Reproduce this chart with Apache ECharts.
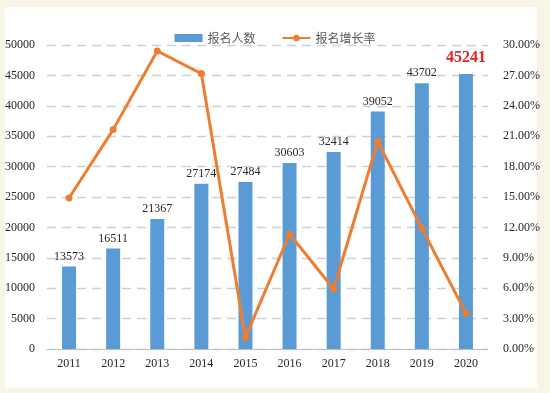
<!DOCTYPE html>
<html><head><meta charset="utf-8">
<script src="https://cdn.jsdelivr.net/npm/echarts@6/dist/echarts.min.js"></script>
<style>html,body{margin:0;padding:0;background:#f8f4e6;}#c{width:550px;height:393px;}</style>
</head><body><div id="c"></div>
<script>
const years = ['2011','2012','2013','2014','2015','2016','2017','2018','2019','2020'];
const applicants = [13573,16511,21367,27174,27484,30603,32414,39052,43702,45241];
const growthRate = [14.9,21.65,29.41,27.18,1.14,11.35,5.92,20.48,11.91,3.52];
const leftTicks = {min:0,max:50000,interval:5000};
const rightTicks = {min:0,max:30,interval:3};

const serif = 'Liberation Serif';
const chart = echarts.init(document.getElementById('c'));
const barData = applicants.map((v,i)=> i===applicants.length-1 ? {value:v,label:{color:'#e3231f',fontSize:16,fontWeight:'bold',distance:8}} : v);
chart.setOption({
  animation:false,
  graphic:[{type:'rect',z:-10,shape:{x:5,y:7,width:532,height:381},style:{fill:'#ffffff'}}],
  legend:{top:27,left:'center',itemGap:26,itemWidth:28,itemHeight:8,
    textStyle:{fontFamily:'Noto Sans CJK SC',fontSize:12,color:'#595959'},
    data:[{name:'报名人数',icon:'rect'},{name:'报名增长率'}]},
  grid:{left:47,right:62,top:45,bottom:44},
  xAxis:{type:'category',data:years,
    axisLine:{lineStyle:{color:'#bfbfbf'}},axisTick:{show:false},
    axisLabel:{fontFamily:serif,fontSize:12,color:'#262626',margin:9}},
  yAxis:[
    {type:'value',min:leftTicks.min,max:leftTicks.max,interval:leftTicks.interval,
     axisLine:{show:false},axisTick:{show:false},
     axisLabel:{fontFamily:serif,fontSize:12,color:'#262626',margin:12,formatter:v=>String(v)},
     splitLine:{lineStyle:{color:'#d0d0d0',type:[9,6],width:1.3}}},
    {type:'value',min:rightTicks.min,max:rightTicks.max,interval:rightTicks.interval,
     axisLine:{show:false},axisTick:{show:false},splitLine:{show:false},
     axisLabel:{fontFamily:serif,fontSize:12,color:'#262626',margin:15,formatter:v=>v.toFixed(2)+'%'}}
  ],
  series:[
    {name:'报名人数',type:'bar',data:barData,barWidth:14,itemStyle:{color:'#5b9bd5'},
     label:{show:true,position:'top',distance:4,fontFamily:serif,fontSize:12,color:'#262626'}},
    {name:'报名增长率',type:'line',yAxisIndex:1,data:growthRate,symbol:'circle',symbolSize:7,
     itemStyle:{color:'#ed7d31'},lineStyle:{color:'#ed7d31',width:3},z:5}
  ]
});
</script></body></html>
